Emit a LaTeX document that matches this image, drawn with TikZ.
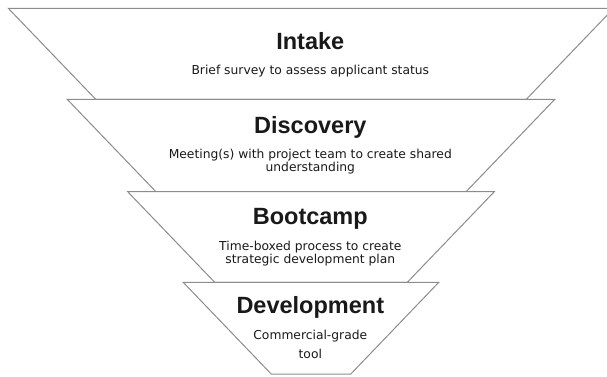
\documentclass[tikz,border=0pt]{standalone}
\usepackage{fontspec}
\setmainfont{DejaVu Sans}
\newfontfamily\titlefont{Liberation Sans}
\definecolor{funnelgray}{RGB}{140,140,140}
\definecolor{textblack}{RGB}{25,25,25}

\begin{document}
\begin{tikzpicture}[x=1pt,y=-1pt,
		funnel/.style={draw=funnelgray,fill=white,line width=1pt},
		stagetitle/.style={anchor=base,inner sep=0pt,text=textblack,font=\titlefont\bfseries\fontsize{23.5}{28}\selectfont},
		stagetext/.style={anchor=base,inner sep=0pt,align=center,text=textblack,font=\fontsize{12.3}{13.4}\selectfont}]
		\useasboundingbox (0,0) rectangle (607,377);
		\clip (0,0) rectangle (607,377);
		
		%Funnel
		\draw[funnel] (8.3,8.3) -- (613.7,8.3) -- (526.3,99.3) -- (95.7,99.3) -- cycle;
		\draw[funnel] (67.2,99.3) -- (554.8,99.3) -- (466.1,191.7) -- (155.9,191.7) -- cycle;
		\draw[funnel] (127.7,191.7) -- (494.3,191.7) -- (407.3,282.3) -- (214.7,282.3) -- cycle;
		\draw[funnel] (183.2,282.3) -- (438.8,282.3) -- (350.8,374) -- (271.2,374) -- cycle;
		
		%Stages (base of a note = its last line)
		\node[stagetitle] (intake) at (310.3,49.3) {Intake};
		\node[stagetext] (intakenote) at (310.3,74.3) {Brief survey to assess applicant status};
		
		\node[stagetitle] (discovery) at (310.3,133.3) {Discovery};
		\node[stagetext] (discoverynote) at (310.3,171.7) {Meeting(s) with project team to create shared\\understanding};
		
		\node[stagetitle] (bootcamp) at (310.3,224.3) {Bootcamp};
		\node[stagetext,font=\fontsize{12.3}{11.7}\selectfont] (bootcampnote) at (310.3,263.3) {Time-boxed process to create\\strategic development plan};
		
		\node[stagetitle] (development) at (310.3,313.3) {Development};
		\node[stagetext,font=\fontsize{12.3}{19}\selectfont] (developmentnote) at (310.3,358.3) {Commercial-grade\\tool};
		
	\end{tikzpicture}
\end{document}
